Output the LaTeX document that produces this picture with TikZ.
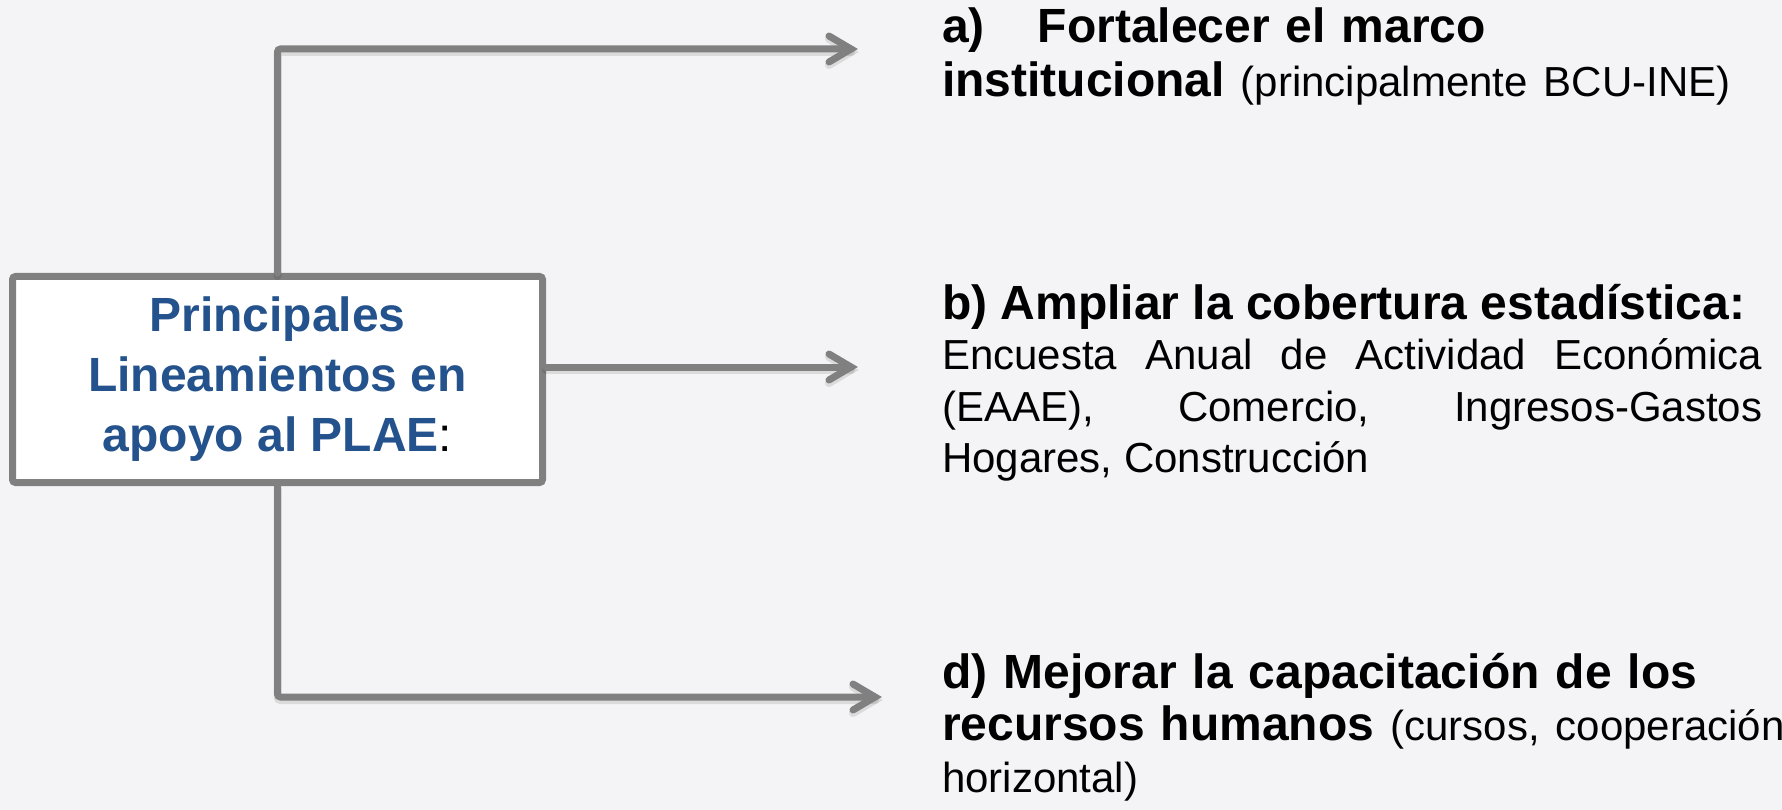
\documentclass[tikz,border=0pt]{standalone}
\usepackage{fontspec}
\setmainfont{Liberation Sans}
\definecolor{bgcol}{RGB}{244,244,246}
\definecolor{linegray}{RGB}{128,128,128}
\definecolor{titleblue}{RGB}{36,82,140}
\begin{document}
\begin{tikzpicture}[x=1pt,y=-1pt,
  conn/.style={draw=linegray, line width=7pt, line cap=round, line join=miter},
  elbow/.style={conn, rounded corners=3pt},
  shade/.style={draw=black, draw opacity=0.10, line width=8pt, line cap=round, line join=miter, transform canvas={yshift=-3pt}},
  mainbox/.style={draw=linegray, fill=white, line width=7pt, rounded corners=3pt,
    minimum width=530pt, minimum height=206pt, inner sep=0pt, align=center,
    text=titleblue, font=\fontsize{48}{60}\selectfont\bfseries},
  blk/.style={anchor=base west, inner sep=0pt, align=left, text width=870pt}
]
\useasboundingbox (0,0) rectangle (1782,810);
\fill[bgcol] (0,0) rectangle (1782,810);

% main box
\node[mainbox] (box) at (277.5,379.5) {Principales\\Lineamientos en\\apoyo al PLAE{\color{black}\mdseries:}};

% text blocks
\node[blk, font=\fontsize{48}{54}\selectfont] (a) at (942,43)
  {\textbf{a)}\hspace{53pt}\textbf{Fortalecer el marco}\\\textbf{institucional} {\fontsize{42}{54}\selectfont(principalmente BCU-INE)}};

\node[blk, text width=820pt, align=justify, font=\fontsize{42}{51}\selectfont] (b) at (942,319)
  {\tolerance=10000{\fontsize{48}{51}\selectfont\bfseries b) Ampliar la cobertura estadística:}\par
   \mbox{Encuesta} \mbox{Anual} de \mbox{Actividad} \mbox{Económica} \mbox{(EAAE),} \mbox{Comercio,} \mbox{Ingresos-Gastos} \mbox{Hogares,} \mbox{Construcción}};

\node[blk, font=\fontsize{48}{52}\selectfont] (d) at (942,688)
  {\textbf{d) Mejorar la capacitación de los}\\\textbf{recursos humanos} {\fontsize{42}{52}\selectfont(cursos, cooperación}\\{\fontsize{42}{52}\selectfont horizontal)}};

% arrow tip points
\coordinate (ta) at (851,49);
\coordinate (tb) at (851,367);
\coordinate (td) at (875,697);

% shadows
\draw[shade, rounded corners=3pt] (box.north) |- (ta);
\draw[shade] (ta) ++(-22,-13) -- (ta) -- ++(-22,13);
\draw[shade] (box.east |- tb) -- (tb);
\draw[shade] (tb) ++(-22,-13) -- (tb) -- ++(-22,13);
\draw[shade, rounded corners=3pt] (box.south) |- (td);
\draw[shade] (td) ++(-22,-13) -- (td) -- ++(-22,13);

% connectors
\draw[elbow] (box.north) |- (ta);
\draw[conn] (ta) ++(-22,-13) -- (ta) -- ++(-22,13);
\draw[conn] (box.east |- tb) -- (tb);
\draw[conn] (tb) ++(-22,-13) -- (tb) -- ++(-22,13);
\draw[elbow] (box.south) |- (td);
\draw[conn] (td) ++(-22,-13) -- (td) -- ++(-22,13);
\end{tikzpicture}
\end{document}
